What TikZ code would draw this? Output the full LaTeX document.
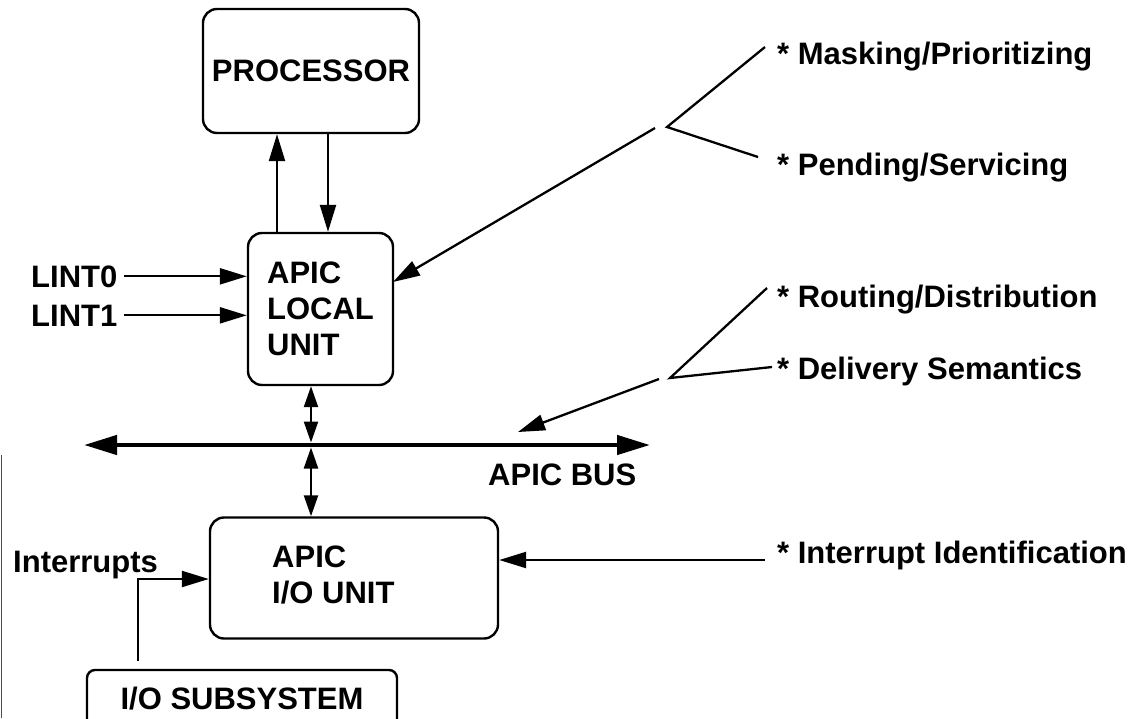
\documentclass[tikz,border=0pt]{standalone}
\usepackage{fontspec}
\setmainfont{Liberation Sans}
\usetikzlibrary{arrows.meta}
\begin{document}
\begin{tikzpicture}[x=1pt,y=-1pt,
  every node/.style={font=\fontsize{31}{36}\selectfont\bfseries, inner sep=0pt},
  box/.style={draw, line width=2.4pt, rounded corners=14pt},
  conn/.style={line width=2.3pt},
  arr/.style={conn, -{Triangle[length=27pt,width=16pt]}},
  darr/.style={conn, {Triangle[length=21pt,width=14pt]}-{Triangle[length=21pt,width=14pt]}},
  busarr/.style={line width=4.5pt, {Triangle[length=33pt,width=19pt]}-{Triangle[length=33pt,width=19pt]}},
  lbl/.style={anchor=base west}
]
\useasboundingbox (0,0) rectangle (1134,718);

% boxes
\node[box, minimum width=216pt, minimum height=124pt] (proc) at (311,71) {PROCESSOR};
\node[box, minimum width=145pt, minimum height=152pt, align=left] (loc) at (320.5,309) {APIC\\LOCAL\\UNIT};
\node[box, minimum width=288pt, minimum height=121pt] (io) at (354,578) {};
\node[lbl] (iot1) at (272,567) {APIC};
\node[lbl] (iot2) at (272,603) {I/O UNIT};
\node[box, rounded corners=8pt, minimum width=310pt, minimum height=58pt] (iosub) at (242,699) {I/O SUBSYSTEM};

% labels
\node[lbl] (lint0) at (31,287) {LINT0};
\node[lbl] (lint1) at (31,326) {LINT1};
\node[lbl] (intr) at (13,572) {Interrupts};
\node[lbl] (buslbl) at (488,485) {APIC BUS};
\node[lbl] (mask) at (777,64) {* Masking/Prioritizing};
\node[lbl] (pend) at (777,175) {* Pending/Servicing};
\node[lbl] (rout) at (777,307) {* Routing/Distribution};
\node[lbl] (deliv) at (777,379) {* Delivery Semantics};
\node[lbl] (iid) at (777,563) {* Interrupt Identification};

% coordinates
\coordinate (pa) at (277,0);
\coordinate (pb) at (328,0);
\coordinate (busL) at (84,445);
\coordinate (busR) at (650,445);
\coordinate (vx) at (311,0);
\coordinate (busT) at (311,442.5);
\coordinate (busB) at (311,447.5);
\coordinate (ip) at (138,579);
\coordinate (iidl) at (765,560);
\coordinate (v1) at (667,127);
\coordinate (v1m) at (765,47);
\coordinate (v1p) at (758,157);
\coordinate (v1s) at (655,128);
\coordinate (ltip) at (393,282);
\coordinate (v2) at (670,378);
\coordinate (v2r) at (767,288);
\coordinate (v2d) at (772,367);
\coordinate (v2s) at (659,379);
\coordinate (btip) at (518,432);

% processor <-> local
\draw[arr] (loc.north -| pa) -- (proc.south -| pa);
\draw[arr] (proc.south -| pb) -- (loc.north -| pb);

% LINT inputs
\draw[arr] ([xshift=6pt]lint0.east) -- (lint0.east -| loc.west);
\draw[arr] ([xshift=6pt]lint1.east) -- (lint1.east -| loc.west);

% bus
\draw[busarr] (busL) -- (busR);
\draw[darr] (loc.south -| vx) -- (busT);
\draw[darr] (busB) -- (io.north -| vx);

% interrupts
\draw[arr, shorten <=8pt] (iosub.north -| ip) -- (ip) -- (io.west |- ip);
\draw[arr] (iidl) -- (io.east |- iidl);

% annotation branches
\draw[conn] (v1m) -- (v1) -- (v1p);
\draw[arr] (v1s) -- (ltip);
\draw[conn] (v2r) -- (v2) -- (v2d);
\draw[arr] (v2s) -- (btip);

% scan edge line
\draw[gray!60!black, line width=1.5pt] (1.5,455) -- (1.5,718);
\end{tikzpicture}
\end{document}
